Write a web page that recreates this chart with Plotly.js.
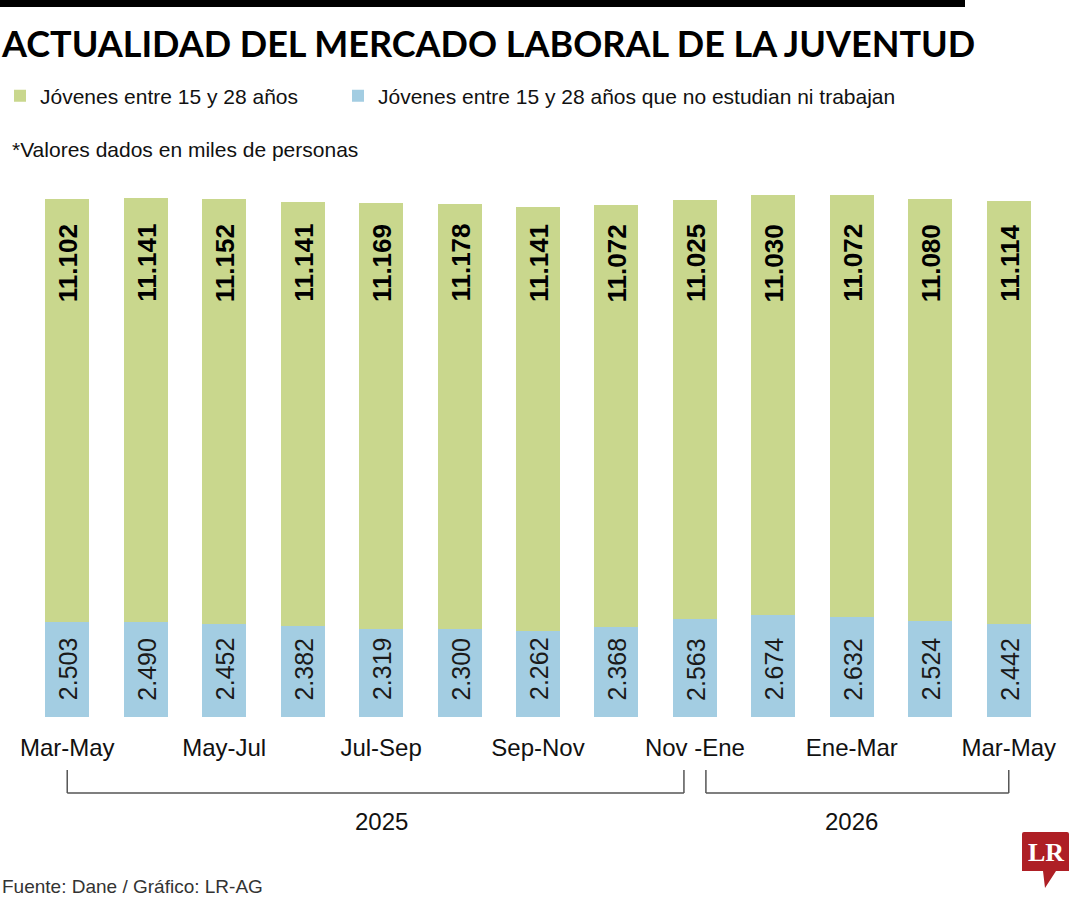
<!DOCTYPE html>
<html>
<head>
<meta charset="utf-8">
<script src="https://cdn.plot.ly/plotly-3.0.1.min.js"></script>
<style>
  body { margin: 0; background: #fff; }
  #myDiv { width: 1080px; height: 900px; }
</style>
</head>
<body>
<div id="myDiv"></div>
<script>
// trimestres moviles (miles de personas)
var periodos = ['Mar-May 2025', 'Abr-Jun 2025', 'May-Jul 2025', 'Jun-Ago 2025', 'Jul-Sep 2025',
  'Ago-Oct 2025', 'Sep-Nov 2025', 'Oct-Dic 2025', 'Nov 2025-Ene 2026', 'Dic 2025-Feb 2026',
  'Ene-Mar 2026', 'Feb-Abr 2026', 'Mar-May 2026'];
var jovenes = [11102, 11141, 11152, 11141, 11169, 11178, 11141, 11072, 11025, 11030, 11072, 11080, 11114];
var ninis = [2503, 2490, 2452, 2382, 2319, 2300, 2262, 2368, 2563, 2674, 2632, 2524, 2442];
var etiquetasEje = ['Mar-May', 'May-Jul', 'Jul-Sep', 'Sep-Nov', 'Nov -Ene', 'Ene-Mar', 'Mar-May'];
var anios = ['2025', '2026'];

var verde = '#c9d78d';
var azul = '#a3cde2';
var sans = 'Liberation Sans, Arial, sans-serif';

// margins: l 28, t 180, plot 1020 x 537
function px2x(px) { return (px - 28) / 1020; }
function py2y(py) { return (717 - py) / 537; }

function miles(v) {
  var r = String(v % 1000);
  while (r.length < 3) r = '0' + r;
  return Math.floor(v / 1000) + '.' + r;
}

var tickvals = periodos.filter(function (p, i) { return i % 2 === 0; });

var Ninis = {
  type: 'bar',
  x: periodos,
  y: ninis,
  name: 'Jóvenes entre 15 y 28 años que no estudian ni trabajan',
  legend: 'legend2',
  marker: { color: azul },
  width: 0.56,
  hoverinfo: 'none'
};

var Jovenes = {
  type: 'bar',
  x: periodos,
  y: jovenes,
  name: 'Jóvenes entre 15 y 28 años',
  legend: 'legend',
  marker: { color: verde },
  width: 0.56,
  hoverinfo: 'none'
};

var annotations = [];
periodos.forEach(function (p, i) {
  annotations.push({
    x: p, y: 0.8454, xref: 'x', yref: 'paper',
    text: miles(jovenes[i]), showarrow: false, textangle: -90,
    xanchor: 'center', yanchor: 'middle', xshift: 1,
    font: { family: sans, size: 26, color: '#000', weight: 'bold' }
  });
  annotations.push({
    x: p, y: 0.0894, xref: 'x', yref: 'paper',
    text: miles(ninis[i]), showarrow: false, textangle: -90,
    xanchor: 'center', yanchor: 'middle', xshift: 1,
    font: { family: sans, size: 25, color: '#1a1a1a' }
  });
});

// años bajo los corchetes
annotations.push({
  x: periodos[4], y: py2y(821), xref: 'x', yref: 'paper', text: anios[0],
  showarrow: false, xanchor: 'center', yanchor: 'middle',
  font: { family: sans, size: 24, color: '#111' }
});
annotations.push({
  x: periodos[10], y: py2y(821), xref: 'x', yref: 'paper', text: anios[1],
  showarrow: false, xanchor: 'center', yanchor: 'middle',
  font: { family: sans, size: 24, color: '#111' }
});

annotations.push({
  x: px2x(10), y: py2y(150), xref: 'paper', yref: 'paper',
  text: '*Valores dados en miles de personas', showarrow: false,
  xanchor: 'left', yanchor: 'middle',
  font: { family: sans, size: 21, color: '#111' }
});

annotations.push({
  x: px2x(0), y: py2y(886), xref: 'paper', yref: 'paper',
  text: 'Fuente: Dane / Gráfico: LR-AG', showarrow: false,
  xanchor: 'left', yanchor: 'middle',
  font: { family: sans, size: 19, color: '#333' }
});

annotations.push({
  x: px2x(1046), y: py2y(852), xref: 'paper', yref: 'paper',
  text: 'LR', showarrow: false, xanchor: 'center', yanchor: 'middle',
  font: { family: 'Liberation Serif, serif', size: 26, color: '#fff', weight: 'bold' }
});

var bracket = { color: '#555', width: 1.5 };
var yTop = py2y(770), yBot = py2y(793);

var shapes = [
  // franja negra superior
  { type: 'rect', xref: 'paper', yref: 'paper', x0: px2x(0), x1: px2x(965),
    y0: py2y(7), y1: py2y(0), fillcolor: '#000', line: { width: 0 } },
  // corchete 2025
  { type: 'line', xref: 'x', yref: 'paper', x0: 0, x1: 0, y0: yTop, y1: yBot, line: bracket },
  { type: 'line', xref: 'x', yref: 'paper', x0: 0, x1: 7.86, y0: yBot, y1: yBot, line: bracket },
  { type: 'line', xref: 'x', yref: 'paper', x0: 7.86, x1: 7.86, y0: yTop, y1: yBot, line: bracket },
  // corchete 2026
  { type: 'line', xref: 'x', yref: 'paper', x0: 8.14, x1: 8.14, y0: yTop, y1: yBot, line: bracket },
  { type: 'line', xref: 'x', yref: 'paper', x0: 8.14, x1: 12, y0: yBot, y1: yBot, line: bracket },
  { type: 'line', xref: 'x', yref: 'paper', x0: 12, x1: 12, y0: yTop, y1: yBot, line: bracket },
  // logo LR
  { type: 'path', xref: 'paper', yref: 'paper', fillcolor: '#ae1f25', line: { width: 0 },
    path: 'M' + px2x(1024) + ',' + py2y(832) +
      ' L' + px2x(1067) + ',' + py2y(832) +
      ' Q' + px2x(1069) + ',' + py2y(832) + ' ' + px2x(1069) + ',' + py2y(834) +
      ' L' + px2x(1069) + ',' + py2y(871) +
      ' L' + px2x(1056) + ',' + py2y(871) +
      ' L' + px2x(1045) + ',' + py2y(888) +
      ' L' + px2x(1043) + ',' + py2y(871) +
      ' L' + px2x(1022) + ',' + py2y(871) +
      ' L' + px2x(1022) + ',' + py2y(834) +
      ' Q' + px2x(1022) + ',' + py2y(832) + ' ' + px2x(1024) + ',' + py2y(832) + ' Z' }
];

var legendFont = { family: sans, size: 21, color: '#111' };

var layout = {
  width: 1080,
  height: 900,
  margin: { l: 28, r: 32, t: 180, b: 183, autoexpand: false },
  paper_bgcolor: '#fff',
  plot_bgcolor: '#fff',
  barmode: 'stack',
  showlegend: true,
  title: {
    text: 'ACTUALIDAD DEL MERCADO LABORAL DE LA JUVENTUD',
    xref: 'container', yref: 'container',
    x: 2 / 1080, xanchor: 'left',
    y: 1 - 44 / 900, yanchor: 'middle',
    font: { family: 'Lato, sans-serif', size: 36, color: '#000', weight: 'bold' }
  },
  legend: {
    orientation: 'h',
    x: px2x(0), xanchor: 'left',
    y: py2y(96), yanchor: 'middle',
    font: legendFont,
    itemclick: false
  },
  legend2: {
    orientation: 'h',
    x: px2x(338), xanchor: 'left',
    y: py2y(96), yanchor: 'middle',
    font: legendFont,
    itemclick: false
  },
  xaxis: {
    type: 'category',
    range: [-0.5, 12.5],
    tickvals: tickvals,
    ticktext: etiquetasEje,
    ticks: '',
    ticklabelstandoff: 14,
    tickfont: { family: sans, size: 24, color: '#111' },
    showgrid: false,
    zeroline: false,
    showline: false,
    fixedrange: true
  },
  yaxis: {
    range: [0, 14100],
    visible: false,
    showgrid: false,
    zeroline: false,
    fixedrange: true
  },
  annotations: annotations,
  shapes: shapes
};

Plotly.newPlot('myDiv', [Ninis, Jovenes], layout, { displayModeBar: false, staticPlot: true });
</script>
</body>
</html>
